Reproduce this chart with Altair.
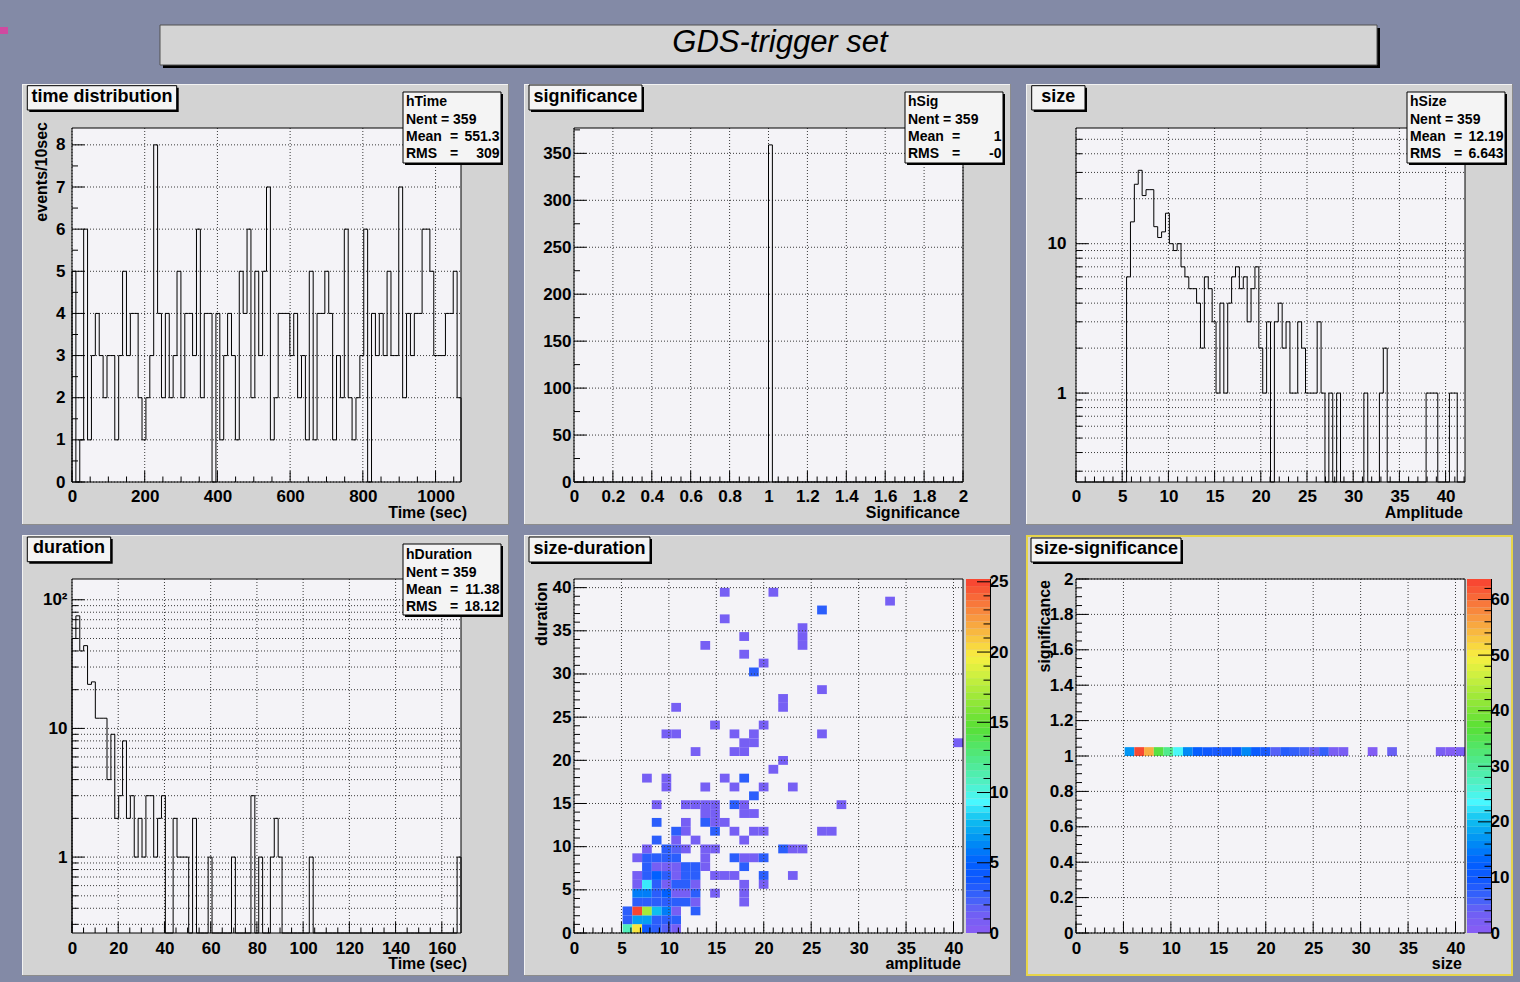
import altair as alt
import pandas as pd

FONT = "Liberation Sans"
W, H = 389, 354
COL_GAP, ROW_GAP = 113, 97

CANVAS = "#838aa6"
PAD_FILL = "#d3d3d3"
PLOT_FILL = "#f4f3f7"
BOX_FILL = "#f4f4f4"

# ---------------- data ----------------
TIME_RANGE = [0, 1070]
TIME_COUNTS = [5, 0, 1, 6, 1, 3, 4, 3, 2, 3,
               3, 1, 3, 5, 3, 4, 4, 2, 1, 2,
               3, 8, 4, 2, 4, 2, 3, 5, 2, 4,
               4, 3, 6, 2, 4, 4, 0, 4, 1, 3,
               4, 3, 1, 5, 4, 6, 2, 5, 3, 5,
               7, 1, 2, 4, 4, 4, 3, 4, 2, 3,
               1, 5, 1, 4, 4, 5, 4, 1, 3, 2,
               6, 2, 1, 2, 3, 6, 0, 4, 3, 4,
               3, 5, 3, 3, 7, 2, 4, 3, 4, 4,
               6, 6, 5, 3, 3, 3, 4, 4, 5, 2]

SIG_RANGE = [0, 2]
SIG_BIN_WIDTH = 0.02
SIG_BIN_LOW = [1.00]
SIG_BIN_COUNT = [359]

SIZE_RANGE = [0, 42.1]
SIZE_COUNTS = [0, 0, 0, 0, 0, 0, 0, 0, 0, 0,
               0, 0, 0, 6, 14, 25, 31, 21, 23, 23,
               13, 11, 12, 16, 10, 9, 10, 7, 6, 5,
               5, 4, 2, 6, 5, 3, 1, 4, 1, 4,
               6, 7, 5, 6, 3, 5, 7, 2, 1, 3,
               0, 3, 4, 2, 3, 1, 1, 3, 2, 1,
               1, 1, 3, 1, 0, 1, 0, 1, 0, 0,
               0, 0, 0, 0, 1, 0, 0, 0, 1, 2,
               0, 0, 0, 0, 0, 0, 0, 0, 0, 0,
               1, 1, 1, 0, 0, 0, 1, 1, 0, 0]

DUR_RANGE = [0, 168.3]
DUR_COUNTS = [50, 75, 40, 44, 22, 23, 12, 12, 12, 4,
              9, 2, 3, 8, 2, 3, 1, 2, 1, 3,
              3, 1, 2, 3, 0, 0, 2, 1, 1, 1,
              0, 2, 0, 0, 0, 1, 0, 0, 0, 0,
              0, 1, 0, 0, 0, 0, 3, 0, 1, 0,
              0, 1, 2, 1, 0, 0, 0, 0, 0, 0,
              0, 1, 0, 0, 0, 0, 0, 0, 0, 0,
              0, 0, 0, 0, 0, 0, 0, 0, 0, 0,
              0, 0, 0, 0, 0, 0, 0, 0, 0, 0,
              0, 0, 0, 0, 0, 0, 0, 0, 0, 1]

CELL = 1.025          # 2D bin width (40 bins over 0..41)
# size-duration cells, per duration row j: (size bins k, counts)
SD_ROWS = [
    (0, [5, 6, 7, 8, 9, 10], [11, 20, 4, 3, 2, 1]),
    (1, [5, 6, 7, 8, 9, 10], [3, 7, 7, 3, 3, 3]),
    (2, [5, 6, 7, 8, 9, 10, 12], [3, 25, 17, 8, 6, 1, 3]),
    (3, [6, 7, 8, 9, 10, 11, 12, 17], [3, 3, 3, 3, 3, 3, 1, 1]),
    (4, [6, 7, 8, 9, 10, 11, 12, 14, 17], [6, 6, 3, 5, 1, 1, 3, 1, 1]),
    (5, [6, 7, 8, 9, 10, 11, 12, 17, 19], [1, 9, 3, 1, 3, 3, 1, 1, 1]),
    (6, [6, 7, 8, 9, 10, 11, 12, 14, 15, 16, 19, 22], [1, 3, 5, 3, 1, 3, 3, 1, 1, 1, 3, 1]),
    (7, [7, 8, 9, 10, 11, 12, 13, 17], [3, 1, 1, 1, 3, 3, 1, 3]),
    (8, [6, 7, 8, 9, 10, 13, 16, 17, 18, 19], [1, 3, 3, 3, 3, 1, 3, 1, 1, 3]),
    (9, [7, 9, 10, 11, 13, 14, 21, 22, 23], [1, 3, 2, 1, 1, 1, 3, 1, 1]),
    (10, [8, 10, 12, 17], [3, 1, 1, 1]),
    (11, [10, 11, 14, 16, 18, 19, 25, 26], [3, 1, 3, 1, 1, 1, 1, 1]),
    (12, [8, 11, 13, 14, 15], [3, 1, 3, 1, 1]),
    (13, [13, 14, 17, 18], [1, 1, 1, 1]),
    (14, [8, 11, 12, 13, 14, 16, 17, 27], [1, 1, 1, 1, 1, 3, 1, 1]),
    (15, [18], [3]),
    (16, [9, 13, 16, 19, 22], [1, 1, 1, 1, 1]),
    (17, [7, 9, 15, 17], [1, 1, 1, 3]),
    (18, [20], [1]),
    (19, [21], [1]),
    (20, [12, 16, 17], [1, 1, 1]),
    (21, [17, 18, 39], [1, 1, 1]),
    (22, [9, 10, 16, 18, 25], [1, 1, 1, 1, 1]),
    (23, [14, 19], [1, 1]),
    (25, [10, 21], [1, 1]),
    (26, [21], [1]),
    (27, [25], [1]),
    (29, [18], [3]),
    (30, [19], [1]),
    (31, [17], [1]),
    (32, [13, 23], [1, 1]),
    (33, [17, 23], [1, 1]),
    (34, [23], [1]),
    (35, [15], [1]),
    (36, [25], [3]),
    (37, [32], [1]),
    (38, [15, 20], [1, 1]),
]
SD_ZMAX = 25.2

SS_K = [5, 6, 7, 8, 9, 10, 11, 12, 13, 14, 15, 16, 17, 18, 19, 20,
        21, 22, 23, 24, 25, 26, 27, 30, 32, 37, 38, 39]
SS_V = [17, 63, 55, 36, 31, 24, 16, 12, 10, 9, 9, 10, 16, 11, 9, 5,
        8, 7, 6, 4, 7, 2, 2, 1, 4, 2, 1, 2]
SS_ROW = [1.0, 1.05]
SS_ZMAX = 63.7

STAT_NAMES = ["hTime", "hSig", "hSize", "hDuration"]
STAT_NENT = ["359", "359", "359", "359"]
STAT_MEAN = ["551.3", "1", "12.19", "11.38"]
STAT_RMS = ["309", "-0", "6.643", "18.12"]

PAL_T = [0, .06, .10, .15, .20, .26, .32, .37, .43, .50, .58, .66, .73, .78, .84, .89, .95, 1.0]
PAL_C = ["#8a5cf4", "#6c60f4", "#3c62fa", "#1058ff", "#0060ff", "#0090f4", "#10c0f0",
         "#48f8ff", "#50f0c0", "#50e880", "#58e034", "#98e838", "#d0f040", "#f8f040",
         "#f8c040", "#f89840", "#f86838", "#f84030"]

ONE = pd.DataFrame({"k": [0]})


# ---------------- helpers ----------------
def rect(x0, y0, x1, y1, **kw):
    return alt.Chart(ONE).mark_rect(**kw).encode(
        x=alt.value(x0), x2=alt.value(x1), y=alt.value(y0), y2=alt.value(y1))


def seg(x0, y0, x1, y1, color="black", width=1):
    return alt.Chart(ONE).mark_rule(color=color, strokeWidth=width).encode(
        x=alt.value(x0), x2=alt.value(x1), y=alt.value(y0), y2=alt.value(y1))


def text(x, y, s, size=14, align="left", weight="bold", angle=0, style="normal"):
    kw = dict(text=s, align=align, baseline="middle", fontSize=size, fontWeight=weight,
              font=FONT, color="black", fontStyle=style)
    if angle:
        kw["angle"] = angle
    return alt.Chart(ONE).mark_text(**kw).encode(x=alt.value(x), y=alt.value(y))


def lin(dom):
    return alt.Scale(domain=dom, nice=False, zero=False)


def logs(dom):
    return alt.Scale(type="log", domain=dom, nice=False, clamp=True)


def label_axis(values, orient, pad, fmt=None, expr=None, offset=0):
    kw = dict(values=values, orient=orient, grid=False, ticks=False, domain=False, title=None,
              labelFont=FONT, labelFontSize=17, labelFontWeight="bold", labelColor="black",
              labelPadding=pad, labelFlush=False, labelOverlap=False, zindex=1)
    if fmt:
        kw["format"] = fmt
    if expr:
        kw["labelExpr"] = expr
    if offset:
        kw["offset"] = offset
    return alt.Axis(**kw)


def vgrid(vals, xs, ax):
    return alt.Chart(pd.DataFrame({"v": vals})).mark_rule(
        color="#3a3a3a", strokeDash=[1, 2], strokeWidth=1).encode(
        x=alt.X("v:Q", scale=xs, axis=ax), y=alt.value(0), y2=alt.value(H))


def hgrid(vals, ys, ax):
    return alt.Chart(pd.DataFrame({"v": vals})).mark_rule(
        color="#3a3a3a", strokeDash=[1, 2], strokeWidth=1).encode(
        y=alt.Y("v:Q", scale=ys, axis=ax), x=alt.value(0), x2=alt.value(W))


def xticks(vals, xs, ax, length):
    return alt.Chart(pd.DataFrame({"v": vals})).mark_rule(color="black").encode(
        x=alt.X("v:Q", scale=xs, axis=ax), y=alt.value(H - length), y2=alt.value(H))


def yticks(vals, ys, ax, length, x0=0.0):
    return alt.Chart(pd.DataFrame({"v": vals})).mark_rule(color="black").encode(
        y=alt.Y("v:Q", scale=ys, axis=ax), x=alt.value(x0), x2=alt.value(x0 + length))


def pad_base(border=None):
    L = [rect(-50, -44, W + 48, H + 43, fill=PAD_FILL),
         seg(-50, -43.5, W + 48, -43.5, "#f2f2f2"),
         seg(-49.5, -44, -49.5, H + 43, "#f2f2f2"),
         seg(-50, H + 42.5, W + 48, H + 42.5, "#8c8c8c"),
         seg(W + 47.5, -44, W + 47.5, H + 43, "#8c8c8c")]
    if border:
        L.append(rect(-49, -43, W + 47, H + 42, fill="white", fillOpacity=0,
                      stroke=border, strokeWidth=2))
    L.append(rect(0, 0, W, H, fill=PLOT_FILL))
    return L


def frame():
    return rect(0, 0, W, H, fill="white", fillOpacity=0, stroke="black", strokeWidth=1)


def title_box(x0, y0, x1, y1, s):
    return [rect(x0 + 2, y0 + 2, x1 + 2, y1 + 2, fill="black"),
            rect(x0, y0, x1, y1, fill=BOX_FILL, stroke="black", strokeWidth=1),
            text((x0 + x1) / 2, (y0 + y1) / 2 - 1, s, size=18, align="center")]


def stats_box(idx, x0=331, y0=-36, dy=0):
    x1, y1 = x0 + 98, y0 + 71
    L = [rect(x0 + 2, y0 + 2, x1 + 2, y1 + 2, fill="black"),
         rect(x0, y0, x1, y1, fill=BOX_FILL, stroke="black", strokeWidth=1),
         text(x0 + 3, y0 + 10 + dy, STAT_NAMES[idx]),
         text(x0 + 3, y0 + 27.5 + dy, "Nent = " + STAT_NENT[idx])]
    for lab, val, yy in (("Mean", STAT_MEAN[idx], y0 + 45 + dy), ("RMS", STAT_RMS[idx], y0 + 62 + dy)):
        L.append(text(x0 + 3, yy, lab))
        L.append(text(x0 + 51, yy, "=", align="center"))
        L.append(text(x1 - 1.5, yy, val, align="right"))
    return L


def step_df(lo, width, counts, floor):
    n = len(counts)
    xs = [lo] + [lo + i * width for i in range(n)] + [lo + n * width, lo + n * width]
    ys = [floor] + [max(c, floor) for c in counts] + [max(counts[-1], floor), floor]
    return pd.DataFrame({"x": xs, "y": ys, "i": list(range(len(xs)))})


def hist_line(df, xs, ys, xaxis, yaxis):
    return alt.Chart(df).mark_line(interpolate="step-after", color="black", strokeWidth=1).encode(
        x=alt.X("x:Q", scale=xs, axis=xaxis),
        y=alt.Y("y:Q", scale=ys, axis=yaxis),
        order="i:Q")


def pal_scale(zmax):
    return alt.Scale(domain=[t * zmax for t in PAL_T], range=PAL_C, interpolate="rgb", clamp=True)


def colorbar(zmax, major, minor, x0, x1):
    n = 50
    bands = pd.DataFrame({"lo": [zmax * i / n for i in range(n)],
                          "hi": [zmax * (i + 1) / n for i in range(n)]})
    bands["mid"] = (bands["lo"] + bands["hi"]) / 2
    ys = lin([0, zmax])
    ax = label_axis(major, "right", -1, fmt="d", offset=x1 - W)
    b = alt.Chart(bands).mark_rect().encode(
        y=alt.Y("lo:Q", scale=ys, axis=ax),
        y2="hi:Q",
        x=alt.value(x0), x2=alt.value(x1),
        color=alt.Color("mid:Q", scale=pal_scale(zmax), legend=None))
    return alt.layer(b, yticks(major, ys, ax, 13, x1 - 13), yticks(minor, ys, ax, 6.5, x1 - 6.5),
                     seg(x1 + 0.5, 0, x1 + 0.5, H))


LOG_MINOR_1 = [0.3, 0.4, 0.5, 0.6, 0.7, 0.8, 0.9, 2, 3, 4, 5, 6, 7, 8, 9]
XTITLE_DY = 31


def hist_panel(xs, ys, xax, yax, xgrid, ygrid, xmaj, xmin, ymaj, ymin, line_df):
    return [vgrid(xgrid, xs, xax), hgrid(ygrid, ys, yax),
            hist_line(line_df, xs, ys, xax, yax),
            xticks(xmaj, xs, xax, 11), xticks(xmin, xs, xax, 5.5),
            yticks(ymaj, ys, yax, 12.5), yticks(ymin, ys, yax, 6), frame()]


# ---------------- panel 1: time distribution ----------------
xs = lin(TIME_RANGE)
ys = lin([0, 8.4])
tx_major = [0, 200, 400, 600, 800, 1000]
tx_minor = [v for v in range(50, 1070, 50) if v % 200]
ty_major = [0, 1, 2, 3, 4, 5, 6, 7, 8]
ty_minor = [0.5, 1.5, 2.5, 3.5, 4.5, 5.5, 6.5, 7.5]
tw = (TIME_RANGE[1] - TIME_RANGE[0]) / len(TIME_COUNTS)
xax = label_axis(tx_major, "bottom", 6, fmt="d")
yax = label_axis(ty_major, "left", 7, fmt="d")
p1 = [rect(-72, -128, 1520 - 72, 982 - 128, fill=CANVAS),
      rect(-72, -101, -64, -94, fill="#d04aa0")]
p1 += pad_base()
p1 += hist_panel(xs, ys, xax, yax, tx_major, ty_major, tx_major, tx_minor, ty_major, ty_minor,
                 step_df(TIME_RANGE[0], tw, TIME_COUNTS, 0))
p1 += stats_box(0)
p1 += title_box(-44.7, -42.3, 104.7, -18, "time distribution")
p1 += [text(W + 6, H + XTITLE_DY, "Time (sec)", size=16, align="right"),
       text(-30, -6, "events/10sec", size=16, align="right", angle=270)]
panel1 = alt.layer(*p1).properties(width=W, height=H)

# ---------------- panel 2: significance ----------------
xs = lin(SIG_RANGE)
ys = lin([0, 377])
sx_major = [0, 0.2, 0.4, 0.6, 0.8, 1, 1.2, 1.4, 1.6, 1.8, 2]
sx_minor = [round(i * 0.05, 2) for i in range(1, 40) if i % 4]
sy_major = [0, 50, 100, 150, 200, 250, 300, 350]
sy_minor = [25, 75, 125, 175, 225, 275, 325, 375]
pts_x, pts_y = [SIG_RANGE[0]], [0]
for lo, c in zip(SIG_BIN_LOW, SIG_BIN_COUNT):
    pts_x += [lo, lo, lo + SIG_BIN_WIDTH]
    pts_y += [0, c, 0]
pts_x.append(SIG_RANGE[1])
pts_y.append(0)
sig_df = pd.DataFrame({"x": pts_x, "y": pts_y, "i": list(range(len(pts_x)))})
xax = label_axis(sx_major, "bottom", 6, fmt="~g")
yax = label_axis(sy_major, "left", 3, fmt="d")
p2 = pad_base()
p2 += hist_panel(xs, ys, xax, yax, sx_major, sy_major, sx_major, sx_minor, sy_major, sy_minor, sig_df)
p2 += stats_box(1)
p2 += title_box(-45, -43, 68, -18, "significance")
p2 += [text(W - 3, H + XTITLE_DY, "Significance", size=16, align="right")]
# canvas title box
p2 += [rect(-414 + 3, -103 + 3, 803 + 3, -63 + 3, fill="black"),
       rect(-414, -103, 803, -63, fill="#d4d4d4", stroke="#505050", strokeWidth=1),
       text(206, -85, "GDS-trigger set", size=31, align="center", weight="normal", style="italic")]
panel2 = alt.layer(*p2).properties(width=W, height=H)

# ---------------- panel 3: size ----------------
xs = lin(SIZE_RANGE)
ys = logs([0.254, 59.5])
zx_major = [0, 5, 10, 15, 20, 25, 30, 35, 40]
zx_minor = [v for v in range(1, 43) if v % 5]
zy_minor = LOG_MINOR_1 + [20, 30, 40, 50]
zw = (SIZE_RANGE[1] - SIZE_RANGE[0]) / len(SIZE_COUNTS)
xax = label_axis(zx_major, "bottom", 6, fmt="d")
yax = label_axis([1, 10], "left", 10, fmt="d")
p3 = pad_base()
p3 += hist_panel(xs, ys, xax, yax, zx_major, zy_minor + [1, 10], zx_major, zx_minor, [1, 10], zy_minor,
                 step_df(SIZE_RANGE[0], zw, SIZE_COUNTS, 0.01))
p3 += stats_box(2)
p3 += title_box(-44.3, -42.3, 9, -18, "size")
p3 += [text(W - 2, H + XTITLE_DY, "Amplitude", size=16, align="right")]
panel3 = alt.layer(*p3).properties(width=W, height=H)

# ---------------- panel 4: duration ----------------
xs = lin(DUR_RANGE)
ys = logs([0.257, 145])
dx_major = [0, 20, 40, 60, 80, 100, 120, 140, 160]
dx_minor = [v for v in range(5, 168, 5) if v % 20]
dy_minor = LOG_MINOR_1 + [20, 30, 40, 50, 60, 70, 80, 90]
dw = (DUR_RANGE[1] - DUR_RANGE[0]) / len(DUR_COUNTS)
xax = label_axis(dx_major, "bottom", 7, fmt="d")
yax = label_axis([1, 10, 100], "left", 5,
                 expr="datum.value == 100 ? '10\u00b2' : format(datum.value, 'd') + '  '")
p4 = pad_base()
p4 += hist_panel(xs, ys, xax, yax, dx_major, dy_minor + [1, 10, 100], dx_major, dx_minor,
                 [1, 10, 100], dy_minor, step_df(DUR_RANGE[0], dw, DUR_COUNTS, 0.01))
p4 += stats_box(3, y0=-35, dy=1)
p4 += title_box(-44.7, -42, 38.7, -17.3, "duration")
p4 += [text(W + 6, H + XTITLE_DY, "Time (sec)", size=16, align="right")]
panel4 = alt.layer(*p4).properties(width=W, height=H)

# ---------------- panel 5: size-duration ----------------
xs = lin([0, 41])
ys = lin([0, 41])
g_major = [0, 5, 10, 15, 20, 25, 30, 35, 40]
g_minor = [v for v in range(1, 41) if v % 5]
rows = []
for j, ks, vs in SD_ROWS:
    for k, v in zip(ks, vs):
        rows.append({"x0": k * CELL, "x1": (k + 1) * CELL, "y0": j * CELL, "y1": (j + 1) * CELL, "v": v})
sd_df = pd.DataFrame(rows)
xax = label_axis(g_major, "bottom", 7, fmt="d")
yax = label_axis(g_major, "left", 3, fmt="d")
cells5 = alt.Chart(sd_df).mark_rect().encode(
    x=alt.X("x0:Q", scale=xs, axis=xax), x2="x1:Q",
    y=alt.Y("y0:Q", scale=ys, axis=yax), y2="y1:Q",
    color=alt.Color("v:Q", scale=pal_scale(SD_ZMAX), legend=None))
p5 = pad_base()
p5 += [cells5, vgrid(g_major, xs, xax), hgrid(g_major, ys, yax),
       xticks(g_major, xs, xax, 11), xticks(g_minor, xs, xax, 5.5),
       yticks(g_major, ys, yax, 12.5), yticks(g_minor, ys, yax, 6), frame()]
p5 += title_box(-45, -42, 76, -17, "size-duration")
p5 += [text(W - 2, H + XTITLE_DY, "amplitude", size=16, align="right"),
       text(-32, 3, "duration", size=16, align="right", angle=270)]
panel5 = alt.layer(alt.layer(*p5),
                   colorbar(SD_ZMAX, [0, 5, 10, 15, 20, 25], [v for v in range(1, 26) if v % 5], 392, 416)
                   ).resolve_scale(y="independent", color="independent").properties(width=W, height=H)

# ---------------- panel 6: size-significance ----------------
xs = lin([0, 41])
ys = lin([0, 2])
q_major = [0, 0.2, 0.4, 0.6, 0.8, 1, 1.2, 1.4, 1.6, 1.8, 2]
q_minor = [round(i * 0.05, 2) for i in range(1, 40) if i % 4]
ss_df = pd.DataFrame({"x0": [k * CELL for k in SS_K], "x1": [(k + 1) * CELL for k in SS_K],
                      "y0": [SS_ROW[0]] * len(SS_K), "y1": [SS_ROW[1]] * len(SS_K), "v": SS_V})
xax = label_axis(g_major, "bottom", 7, fmt="d")
yax = label_axis(q_major, "left", 3, fmt="~g")
cells6 = alt.Chart(ss_df).mark_rect().encode(
    x=alt.X("x0:Q", scale=xs, axis=xax), x2="x1:Q",
    y=alt.Y("y0:Q", scale=ys, axis=yax), y2="y1:Q",
    color=alt.Color("v:Q", scale=pal_scale(SS_ZMAX), legend=None))
p6 = pad_base(border="#e6d44a")
p6 += [cells6, vgrid(g_major, xs, xax), hgrid(q_major, ys, yax),
       xticks(g_major, xs, xax, 11), xticks(g_minor, xs, xax, 5.5),
       yticks(q_major, ys, yax, 12.5), yticks(q_minor, ys, yax, 6), frame()]
p6 += title_box(-45, -41, 105, -17, "size-significance")
p6 += [text(W - 3, H + XTITLE_DY, "size", size=16, align="right"),
       text(-31, 1, "significance", size=16, align="right", angle=270)]
panel6 = alt.layer(alt.layer(*p6),
                   colorbar(SS_ZMAX, [0, 10, 20, 30, 40, 50, 60],
                            [v for v in range(2, 64, 2) if v % 10], 391, 415)
                   ).resolve_scale(y="independent", color="independent").properties(width=W, height=H)

chart = alt.concat(panel1, panel2, panel3, panel4, panel5, panel6, columns=3,
                   spacing={"row": ROW_GAP, "column": COL_GAP}, bounds="flush",
                   padding=0, background=CANVAS
                   ).configure_view(strokeOpacity=0)

chart.save("out.html", embed_options={"renderer": "svg", "actions": False})
